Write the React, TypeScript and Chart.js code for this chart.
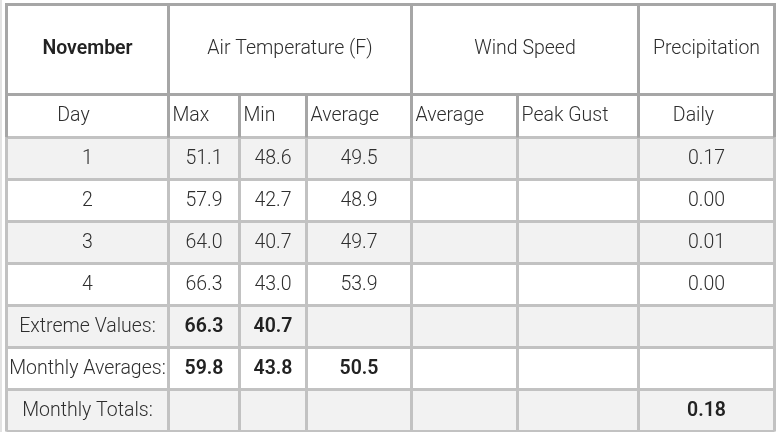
import React, { useEffect, useRef } from "react";
import { Chart, registerables } from "chart.js";

Chart.register(...registerables);

// ---- data ----
const groupHeaders = ["November", "Air Temperature (F)", "Wind Speed", "Precipitation"];
const subHeaders = ["Day", "Max", "Min", "Average", "Average", "Peak Gust", "Daily"];
const days = ["1", "2", "3", "4"];
const maxTemp = [51.1, 57.9, 64.0, 66.3];
const minTemp = [48.6, 42.7, 40.7, 43.0];
const avgTemp = [49.5, 48.9, 49.7, 53.9];
const windAvg: (number | null)[] = [null, null, null, null];
const peakGust: (number | null)[] = [null, null, null, null];
const precipDaily = [0.17, 0.0, 0.01, 0.0];
const summaryLabels = ["Extreme Values:", "Monthly Averages:", "Monthly Totals:"];
const extremeValues = [66.3, 40.7];
const monthlyAverages = [59.8, 43.8, 50.5];
const monthlyTotals = [0.18];

// ---- layout (scale units) ----
const COL_EDGES = [6.5, 168.5, 239.5, 306.5, 411.5, 517.5, 638.5, 774.5];
const ROW_EDGES = [4.5, 94.5, 137.5, 179.5, 221.5, 263.5, 305.5, 347.5, 389.5, 431.5];
const GROUP_SPANS = [[0, 1], [1, 4], [4, 6], [6, 7]];

const FONT = "Roboto, 'Noto Sans', sans-serif";
const FONT_SIZE = 19.5;
const TEXT = "#2e2e2e";
const BOLD_TEXT = "#222222";
const DARK_LINE = "#a6a6a6";
const LIGHT_LINE = "#c2c2c2";
const SHADE = "#f2f2f2";

type Cell = { text: string; bold?: boolean };

function fmt1(v: number | null) {
  return v === null ? "" : v.toFixed(1);
}
function fmt2(v: number | null) {
  return v === null ? "" : v.toFixed(2);
}

function buildBody(): Cell[][] {
  const rows: Cell[][] = [];
  days.forEach((d, i) => {
    rows.push([
      { text: d },
      { text: fmt1(maxTemp[i]) },
      { text: fmt1(minTemp[i]) },
      { text: fmt1(avgTemp[i]) },
      { text: fmt1(windAvg[i]) },
      { text: fmt1(peakGust[i]) },
      { text: fmt2(precipDaily[i]) },
    ]);
  });
  rows.push([
    { text: summaryLabels[0] },
    { text: fmt1(extremeValues[0]), bold: true },
    { text: fmt1(extremeValues[1]), bold: true },
    { text: "" }, { text: "" }, { text: "" }, { text: "" },
  ]);
  rows.push([
    { text: summaryLabels[1] },
    { text: fmt1(monthlyAverages[0]), bold: true },
    { text: fmt1(monthlyAverages[1]), bold: true },
    { text: fmt1(monthlyAverages[2]), bold: true },
    { text: "" }, { text: "" }, { text: "" },
  ]);
  rows.push([
    { text: summaryLabels[2] },
    { text: "" }, { text: "" }, { text: "" }, { text: "" }, { text: "" },
    { text: fmt2(monthlyTotals[0]), bold: true },
  ]);
  return rows;
}

// sub-header alignment: 'c' centered, 'l' left with padding
const SUB_ALIGN = ["c", "l", "l", "l", "l", "l", "c"];

const tablePlugin = {
  id: "tablePlugin",
  afterDraw(chart: any) {
    const ctx: CanvasRenderingContext2D = chart.ctx;
    const xs = chart.scales.x;
    const ys = chart.scales.y;
    const X = (v: number) => xs.getPixelForValue(v);
    const Y = (v: number) => ys.getPixelForValue(v);
    const body = buildBody();

    ctx.save();
    // page-side faint line
    ctx.strokeStyle = "#e3e3e3";
    ctx.lineWidth = 2;
    ctx.beginPath();
    ctx.moveTo(X(1), Y(0));
    ctx.lineTo(X(1), Y(432));
    ctx.stroke();

    // backgrounds
    body.forEach((_, r) => {
      if (r % 2 === 0) {
        ctx.fillStyle = SHADE;
        ctx.fillRect(
          X(COL_EDGES[0]),
          Y(ROW_EDGES[r + 2]),
          X(COL_EDGES[7]) - X(COL_EDGES[0]),
          Y(ROW_EDGES[r + 3]) - Y(ROW_EDGES[r + 2])
        );
      }
    });

    const line = (x1: number, y1: number, x2: number, y2: number, color: string, w = 3) => {
      ctx.strokeStyle = color;
      ctx.lineWidth = w;
      ctx.beginPath();
      ctx.moveTo(X(x1), Y(y1));
      ctx.lineTo(X(x2), Y(y2));
      ctx.stroke();
    };

    const left = COL_EDGES[0];
    const right = COL_EDGES[7];
    // body lines (light)
    for (let r = 2; r < ROW_EDGES.length; r++) {
      line(left, ROW_EDGES[r], right, ROW_EDGES[r], LIGHT_LINE);
    }
    COL_EDGES.forEach((c) => line(c, ROW_EDGES[2], c, ROW_EDGES[ROW_EDGES.length - 1], LIGHT_LINE));
    // header lines (dark)
    line(left - 1.5, ROW_EDGES[0], right + 1.5, ROW_EDGES[0], DARK_LINE);
    line(left, ROW_EDGES[1], right, ROW_EDGES[1], DARK_LINE);
    GROUP_SPANS.forEach(([a]) => line(COL_EDGES[a], ROW_EDGES[0], COL_EDGES[a], ROW_EDGES[2], DARK_LINE));
    line(right, ROW_EDGES[0], right, ROW_EDGES[2], DARK_LINE);
    COL_EDGES.slice(1, 7).forEach((c) => line(c, ROW_EDGES[1], c, ROW_EDGES[2], DARK_LINE));

    ctx.textBaseline = "middle";
    const drawText = (t: string, x: number, y: number, align: CanvasTextAlign, bold: boolean) => {
      ctx.font = `${bold ? 600 : 300} ${FONT_SIZE}px ${FONT}`;
      ctx.fillStyle = bold ? BOLD_TEXT : TEXT;
      ctx.textAlign = align;
      ctx.fillText(t, x, y);
    };

    // group headers
    GROUP_SPANS.forEach(([a, b], i) => {
      const cx = (X(COL_EDGES[a]) + X(COL_EDGES[b])) / 2;
      const cy = (Y(ROW_EDGES[0]) + Y(ROW_EDGES[1])) / 2;
      drawText(groupHeaders[i], cx, cy, "center", i === 0);
    });
    // sub headers
    subHeaders.forEach((h, i) => {
      const cy = (Y(ROW_EDGES[1]) + Y(ROW_EDGES[2])) / 2;
      if (SUB_ALIGN[i] === "c") {
        const cx = (X(COL_EDGES[i]) + X(COL_EDGES[i + 1])) / 2 - (i === 0 ? 14 : 13);
        drawText(h, cx, cy, "center", false);
      } else {
        drawText(h, X(COL_EDGES[i]) + 4, cy, "left", false);
      }
    });
    // body
    body.forEach((row, r) => {
      const cy = (Y(ROW_EDGES[r + 2]) + Y(ROW_EDGES[r + 3])) / 2 + 1;
      row.forEach((cell, c) => {
        if (!cell.text) return;
        const cx = (X(COL_EDGES[c]) + X(COL_EDGES[c + 1])) / 2;
        drawText(cell.text, cx, cy, "center", !!cell.bold);
      });
    });
    ctx.restore();
  },
};

export default function App() {
  const ref = useRef<HTMLCanvasElement | null>(null);
  useEffect(() => {
    document.body.style.margin = "0";
    const canvas = ref.current;
    if (!canvas) return;
    const chart = new Chart(canvas, {
      type: "scatter",
      data: { datasets: [{ data: [], pointRadius: 0 }] },
      options: {
        animation: false,
        responsive: false,
        maintainAspectRatio: false,
        layout: { padding: 0 },
        plugins: { legend: { display: false }, tooltip: { enabled: false } },
        scales: {
          x: { type: "linear", min: 0, max: 776, display: false },
          y: { type: "linear", min: 0, max: 432, reverse: true, display: false },
        },
      },
      plugins: [tablePlugin],
    });
    return () => chart.destroy();
  }, []);
  return (
    <div style={{ position: "absolute", left: 0, top: 0, width: 776, height: 432, background: "#fff" }}>
      <canvas ref={ref} width={776} height={432} style={{ display: "block" }} />
    </div>
  );
}
